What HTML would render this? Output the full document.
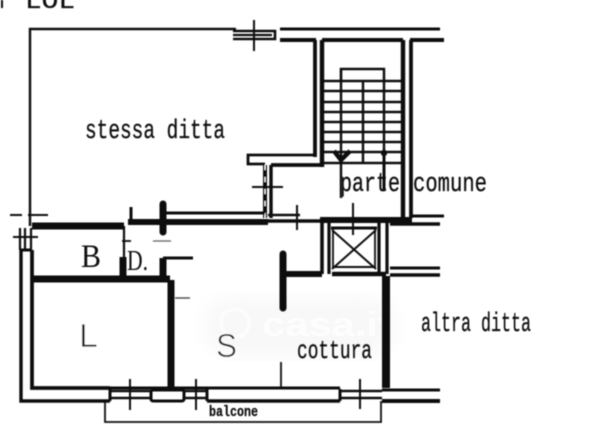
<!DOCTYPE html>
<html><head><meta charset="utf-8"><style>
html,body{margin:0;padding:0;background:#fff;width:600px;height:426px;overflow:hidden}
svg{display:block}
text{font-family:"Liberation Mono",monospace;fill:#111;stroke:#111;stroke-width:.3}
</style></head><body>
<svg width="600" height="426" viewBox="0 0 600 426" xmlns="http://www.w3.org/2000/svg">
<defs><filter id="b"><feGaussianBlur stdDeviation="9"/></filter><filter id="s"><feGaussianBlur stdDeviation="0.4"/></filter></defs>
<rect x="205" y="298" width="190" height="58" rx="25" fill="#f8f8f8" filter="url(#b)"/>
<circle cx="235" cy="323" r="14" fill="none" stroke="#fcfcfc" stroke-width="4"/>
<text x="262" y="336" font-size="34" textLength="130" lengthAdjust="spacingAndGlyphs" style="fill:#fdfdfd;stroke:none;font-family:'Liberation Sans',sans-serif;font-weight:bold">casa.it</text>
<g filter="url(#s)" fill="none" stroke="#111" stroke-linecap="butt">
<path d="M30 226V29H236" stroke-width="2.4"/>
<path d="M233 31H275V39H233" stroke-width="2.6"/>
<path d="M233 35H272" stroke-width="2.2"/>
<path d="M254 20V51" stroke-width="2"/>
<path d="M280 29H440" stroke-width="3"/>
<path d="M280 40H316" stroke-width="4"/>
<path d="M322 40H403M410 40H444" stroke-width="4"/>
<path d="M315 40V157" stroke-width="3.8"/>
<path d="M322 40V167" stroke-width="4.4"/>
<path d="M403 40V218" stroke-width="4.4"/>
<path d="M411 40V218" stroke-width="3.8"/>
<path d="M316 155H248V164H265" stroke-width="2.8"/>
<path d="M271 165H322" stroke-width="3.8"/>
<path d="M322 81H403M322 91H403M322 102H403M322 112H403M322 122H403M322 132H403M322 142H403M322 152H403M322 163H403" stroke-width="2.4"/>
<path d="M341 81V69H384V163M363 81V163" stroke-width="2.4"/>
<path d="M341 69V198" stroke-width="2.4"/>
<path d="M334 151L341 160L350 151" stroke-width="4.5"/>
<path d="M384 150V190" stroke-width="3"/>
<circle cx="384" cy="153" r="3.2" fill="#111" stroke="none"/>
<path d="M353 203V235" stroke-width="2"/>
<path d="M265 165V218" stroke-width="4"/>
<path d="M271 165V218" stroke-width="3.4"/>
<path d="M265 165V218" stroke="#fff" stroke-width="1.2" stroke-dasharray="5 7"/>
<path d="M252 187H283" stroke-width="2"/>
<path d="M165 213H265" stroke-width="3"/>
<path d="M128 222H268" stroke-width="6"/>
<path d="M268 215H300" stroke-width="2.5"/>
<path d="M268 221H320" stroke-width="3.5"/>
<path d="M297 205V230" stroke-width="2"/>
<path d="M320 220H412" stroke-width="6"/>
<path d="M163 204V232" stroke-width="7" stroke-linecap="round"/>
<path d="M131 207V221" stroke-width="3"/>
<path d="M32 226H124" stroke-width="7"/>
<path d="M124 226V257" stroke-width="2.2"/>
<path d="M123 257V279" stroke-width="7"/>
<path d="M32 279H170" stroke-width="7"/>
<path d="M122 241H131" stroke-width="1.8"/>
<path d="M153 241H171" stroke="#777" stroke-width="1.6"/>
<path d="M163 258H193" stroke-width="3"/>
<path d="M163 279V258" stroke-width="7"/>
<path d="M175 298H190" stroke="#555" stroke-width="1.5"/>
<path d="M10 215H22M28 215H48" stroke-width="2"/>
<path d="M13 237H38" stroke-width="2"/>
<path d="M20 228V250M25 228V250M31 228V250" stroke-width="2.2"/>
<path d="M20 250H32" stroke-width="3"/>
<path d="M21 250V401H110" stroke-width="3.4"/>
<path d="M32 250V388H110" stroke-width="3.8"/>
<path d="M171 280V388" stroke-width="7"/>
<path d="M110 388V401" stroke-width="3"/>
<path d="M110 391H150M110 398H150" stroke-width="2.6"/>
<path d="M130 379V410M196 379V410" stroke-width="2"/>
<rect x="151" y="390" width="33" height="11" rx="2" stroke-width="3"/>
<path d="M184 391H207M184 398H207" stroke-width="2.6"/>
<path d="M207 388V401" stroke-width="3"/>
<path d="M110 388H340" stroke-width="3"/>
<path d="M207 401H340" stroke-width="3.4"/>
<path d="M340 389V401" stroke-width="3"/>
<path d="M340 391H382M340 398H382" stroke-width="2.6"/>
<path d="M360 379V409" stroke-width="2"/>
<path d="M281 362V388" stroke-width="1.8"/>
<path d="M105 401V422H381V401" stroke-width="1.8"/>
<path d="M382 390H440" stroke-width="3"/>
<path d="M382 401H440" stroke-width="4"/>
<path d="M283 254V308" stroke-width="7" stroke-linecap="round"/>
<path d="M283 274H322" stroke-width="6"/>
<path d="M386 276V388" stroke-width="8"/>
<path d="M322 222V274" stroke-width="3.6"/>
<path d="M329 222V274" stroke-width="3.2"/>
<path d="M379 222V274" stroke-width="3.2"/>
<path d="M387 222V274" stroke-width="3.2"/>
<path d="M332 274H386" stroke-width="4.5"/>
<path d="M331 228H377" stroke-width="3"/>
<path d="M334 267H375" stroke-width="2"/>
<path d="M333 228V268M375 228V268" stroke-width="1.8"/>
<path d="M332 230L376 269M376 230L332 269" stroke-width="2"/>
<path d="M390 224H440" stroke-width="3.4"/>
<path d="M410 216H444" stroke-width="3"/>
<path d="M390 268H440" stroke-width="3"/>
<path d="M390 275H440" stroke-width="3.4"/>
<path d="M2 0V8" stroke-width="2"/>
</g>
<g filter="url(#s)">
<text x="25" y="8" font-size="24" textLength="50" lengthAdjust="spacingAndGlyphs">LOL</text>
<text x="85" y="138" font-size="27" textLength="140" lengthAdjust="spacingAndGlyphs">stessa ditta</text>
<text x="340" y="191" font-size="27" textLength="60" lengthAdjust="spacingAndGlyphs">parte</text>
<text x="413" y="191" font-size="27" textLength="74" lengthAdjust="spacingAndGlyphs">comune</text>
<text x="81" y="267" font-size="33" textLength="20" lengthAdjust="spacingAndGlyphs" style="font-family:'Liberation Serif',serif;stroke:none">B</text>
<text x="127" y="270" font-size="29" textLength="21" lengthAdjust="spacingAndGlyphs" style="font-family:'Liberation Serif',serif;stroke:none">D.</text>
<text x="79" y="347" font-size="33" textLength="19" lengthAdjust="spacingAndGlyphs" style="font-family:'Liberation Sans',sans-serif;font-weight:normal;stroke:#fff;stroke-width:.7">L</text>
<text x="216" y="357" font-size="33" textLength="21" lengthAdjust="spacingAndGlyphs" style="font-family:'Liberation Sans',sans-serif;stroke:#fff;stroke-width:.7">S</text>
<text x="297" y="358" font-size="26" textLength="75" lengthAdjust="spacingAndGlyphs">cottura</text>
<text x="421" y="331" font-size="27" textLength="110" lengthAdjust="spacingAndGlyphs">altra ditta</text>
<text x="209" y="416" font-size="15" font-weight="bold" textLength="49" lengthAdjust="spacingAndGlyphs">balcone</text>
</g>
</svg>
</body></html>
